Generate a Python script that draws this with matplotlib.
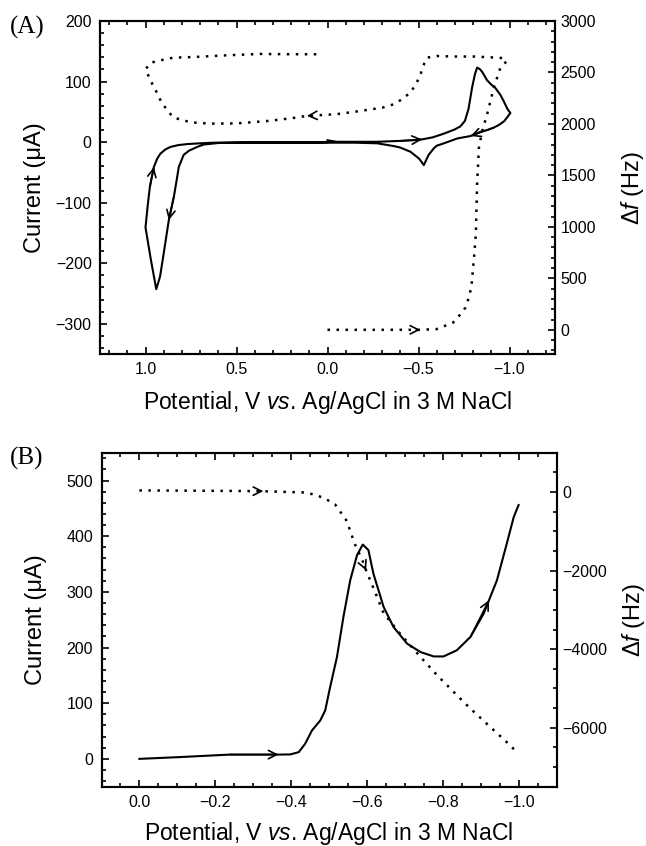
import numpy as np
import matplotlib
matplotlib.use("Agg")
import matplotlib.pyplot as plt
from matplotlib.ticker import MultipleLocator

plt.rcParams['font.family'] = ['Liberation Sans', 'DejaVu Sans']
plt.rcParams['mathtext.fontset'] = 'custom'
plt.rcParams['mathtext.rm'] = 'Liberation Sans'
plt.rcParams['mathtext.it'] = 'Liberation Sans:italic'

# (A) cyclic voltammogram: 0 -> -1.0 -> +1.0 -> 0 V
cv_a_v = [0.0, -0.05, -0.27, -0.40, -0.47, -0.52, -0.58, -0.64, -0.70, -0.73, -0.755,
          -0.775, -0.795, -0.81, -0.822, -0.835, -0.85, -0.877, -0.90, -0.923, -0.95,
          -0.969, -0.99, -1.005, -0.985, -0.969, -0.94, -0.914, -0.88, -0.841, -0.786,
          -0.713, -0.64, -0.60, -0.585, -0.556, -0.529, -0.515, -0.502, -0.456, -0.40,
          -0.364, -0.273, -0.15, 0.0, 0.15, 0.3, 0.45, 0.6, 0.68, 0.716, 0.76, 0.79,
          0.817, 0.83, 0.844, 0.872, 0.9, 0.92, 0.941, 0.97, 1.0, 0.988, 0.976, 0.954,
          0.935, 0.918, 0.89, 0.863, 0.82, 0.771, 0.70, 0.625, 0.5, 0.3, 0.1, 0.0]
cv_a_i = [3, 0.5, 0.5, 2, 3, 4.5, 8, 14, 21, 26, 35,
          55, 91, 112, 123, 121, 116, 102, 95, 89, 78,
          67, 54, 48, 40, 34, 28, 24, 20, 17, 10,
          6, -2, -6, -10, -21, -38, -32, -27, -16, -9,
          -6.6, -2, -1, -1, -1, -1, -1, -1.5, -4, -8, -14, -21,
          -41, -65, -90, -129, -184, -222, -243, -195, -141, -105, -74, -41,
          -27, -19, -12, -8, -5, -3.3, -2, -1, -0.5, -0.5, -0.5, 0]

# (A) frequency change
qcm_a_v = [0.0, -0.2, -0.4, -0.51, -0.6, -0.69, -0.73, -0.758, -0.78, -0.792, -0.805,
           -0.815, -0.822, -0.832, -0.85, -0.877, -0.914, -0.95, -0.985, -0.96, -0.932,
           -0.8, -0.69, -0.602, -0.548, -0.53, -0.511, -0.49, -0.456, -0.40, -0.364,
           -0.306, -0.181, -0.05, 0.113, 0.2, 0.327, 0.5, 0.643, 0.75, 0.845, 0.88,
           0.915, 0.945, 0.971, 1.0, 0.971, 0.918, 0.847, 0.735, 0.553, 0.368, 0.214, 0.033]
qcm_a_f = [0, 0, 0, 0, 7, 70, 150, 216, 330, 443, 700,
           929, 1414, 1770, 1932, 2094, 2353, 2547, 2610, 2640, 2644,
           2655, 2655, 2660, 2644, 2580, 2482, 2400, 2304, 2230, 2191,
           2160, 2126, 2095, 2078, 2055, 2029, 2005, 2003, 2015, 2061, 2130,
           2220, 2330, 2417, 2531, 2595, 2618, 2644, 2650, 2667, 2680, 2677, 2677]

# (B) linear sweep 0 -> -1.0 V
cv_b_v = [0.0, -0.1, -0.239, -0.367, -0.398, -0.42, -0.437, -0.455, -0.477, -0.49,
          -0.503, -0.521, -0.538, -0.556, -0.574, -0.589, -0.604, -0.617, -0.644,
          -0.670, -0.706, -0.741, -0.776, -0.802, -0.837, -0.873, -0.908, -0.922,
          -0.943, -0.969, -0.987, -1.0]
cv_b_i = [0, 3, 7.7, 7.7, 8, 12, 27, 51, 69, 87,
          129, 183, 255, 321, 366, 385, 375, 333, 273,
          237, 207, 192, 184, 184, 195, 219, 261, 285,
          321, 387, 434, 456]

qcm_b_v = [0.0, -0.2, -0.327, -0.442, -0.485, -0.516, -0.547, -0.567, -0.591, -0.598,
           -0.617, -0.644, -0.683, -0.741, -0.785, -0.829, -0.873, -0.921, -0.969, -0.996]
qcm_b_f = [40, 30, 20, -15, -143, -315, -740, -1300, -1806, -2000,
           -2440, -3084, -3555, -4194, -4662, -5090, -5514, -5941, -6368, -6624]

# arrows: (head index, tail index)
arr_cv_a = [(5, 3), (30, 27), (64, 63), (56, 55)]
arr_qcm_a = [(3, 2), (34, 33)]
arr_cv_b = [(3, 2), (27, 25)]
arr_qcm_b = [(2, 1), (9, 7)]

xlabel = 'Potential, V $vs$. Ag/AgCl in 3 M NaCl'

fig = plt.figure(figsize=(6.46, 8.46), dpi=100)
W, H = 646.0, 846.0


def setup(ax, ax2):
    for a in (ax, ax2):
        for s in a.spines.values():
            s.set_linewidth(1.5)
    ax.tick_params(which='both', direction='in', top=True, right=False,
                   labelsize=11.5, width=1.2, pad=6)
    ax.tick_params(which='major', length=5)
    ax.tick_params(which='minor', length=3)
    ax2.tick_params(which='both', direction='in', right=True, left=False,
                    top=False, bottom=False, labelsize=11.5, width=1.2, pad=4)
    ax2.tick_params(which='major', length=5)
    ax2.tick_params(which='minor', length=3)
    ax.set_xlabel(xlabel, fontsize=16.5)
    ax.set_ylabel('Current (\u03bcA)', fontsize=17)
    ax2.set_ylabel('\u0394$f$ (Hz)', fontsize=17)


def arrows(ax, xs, ys, pairs, size=None):
    for h, t in pairs:
        if size is None:
            xt, yt, tc = xs[t], ys[t], 'data'
        else:
            ph = ax.transData.transform((xs[h], ys[h]))
            pt = ax.transData.transform((xs[t], ys[t]))
            d = (pt - ph) / np.hypot(*(pt - ph)) * size
            xt, yt, tc = d[0] * 0.72, d[1] * 0.72, 'offset points'
        ax.annotate('', xy=(xs[h], ys[h]), xytext=(xt, yt), textcoords=tc,
                    arrowprops=dict(arrowstyle='->', color='k', lw=1.2,
                                    mutation_scale=15, shrinkA=0, shrinkB=0))


dot = dict(color='k', lw=1.8, linestyle=(0, (1, 2.6)))

# ---- panel A ----
axA = fig.add_axes([100 / W, 1 - 354 / H, 455 / W, 333 / H])
axA2 = axA.twinx()
axA.plot(cv_a_v, cv_a_i, color='k', lw=1.5)
axA2.plot(qcm_a_v, qcm_a_f, **dot)
axA.set_xlim(1.25, -1.25)
axA.set_ylim(-350, 200)
axA2.set_ylim(-235, 3000)
axA.xaxis.set_major_locator(MultipleLocator(0.5))
axA.xaxis.set_minor_locator(MultipleLocator(0.1))
axA.yaxis.set_major_locator(MultipleLocator(100))
axA.yaxis.set_minor_locator(MultipleLocator(20))
axA2.yaxis.set_major_locator(MultipleLocator(500))
axA2.yaxis.set_minor_locator(MultipleLocator(100))
setup(axA, axA2)
axA.yaxis.set_label_coords(-0.118, 0.5)
axA2.yaxis.set_label_coords(1.14, 0.5)
axA.xaxis.set_label_coords(0.5, -0.105)
arrows(axA, cv_a_v, cv_a_i, arr_cv_a)
arrows(axA2, qcm_a_v, qcm_a_f, arr_qcm_a, size=4)

# ---- panel B ----
axB = fig.add_axes([101.5 / W, 1 - 786.7 / H, 455 / W, 334 / H])
axB2 = axB.twinx()
axB.plot(cv_b_v, cv_b_i, color='k', lw=1.5)
axB2.plot(qcm_b_v, qcm_b_f, **dot)
axB.set_xlim(0.1, -1.1)
axB.set_ylim(-50, 550)
axB2.set_ylim(-7500, 1000)
axB.xaxis.set_major_locator(MultipleLocator(0.2))
axB.xaxis.set_minor_locator(MultipleLocator(0.05))
axB.yaxis.set_major_locator(MultipleLocator(100))
axB.yaxis.set_minor_locator(MultipleLocator(20))
axB2.yaxis.set_major_locator(MultipleLocator(2000))
axB2.yaxis.set_minor_locator(MultipleLocator(500))
setup(axB, axB2)
axB.yaxis.set_label_coords(-0.12, 0.5)
axB2.yaxis.set_label_coords(1.14, 0.5)
axB.xaxis.set_label_coords(0.5, -0.1)
arrows(axB, cv_b_v, cv_b_i, arr_cv_b)
arrows(axB2, qcm_b_v, qcm_b_f, arr_qcm_b, size=4)

fig.text(10 / W, 1 - 27 / H, '(A)', family='Liberation Serif', fontsize=18,
         ha='left', va='center')
fig.text(10 / W, 1 - 458 / H, '(B)', family='Liberation Serif', fontsize=18,
         ha='left', va='center')

fig.savefig('out.png', dpi=100)
